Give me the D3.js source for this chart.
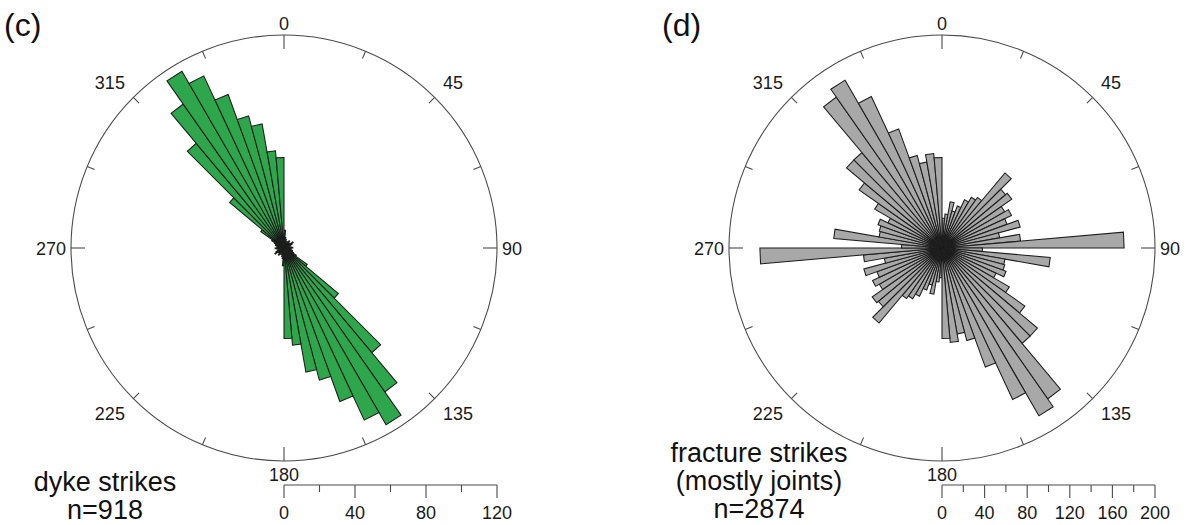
<!DOCTYPE html>
<html>
<head>
<meta charset="utf-8">
<script src="https://cdn.jsdelivr.net/npm/d3@7/dist/d3.min.js"></script>
<style>
  html, body { margin: 0; padding: 0; background: #fff; }
  svg { display: block; font-family: "Liberation Sans", Arial, sans-serif; }
</style>
</head>
<body>
<svg id="chart" width="1192" height="525"></svg>
<script>
// ---- data (strike roses, 5-degree bins, bidirectional: each bin drawn at θ and θ+180) ----
const binStarts = [0,5,10,15,20,25,30,35,40,45,50,55,60,65,70,75,80,85,
                   90,95,100,105,110,115,120,125,130,135,140,145,150,155,160,165,170,175];
const dykeCounts = [10,6,5,4,3,3,4,5,4,3,4,6,5,4,3,3,4,5,
                    4,3,4,5,5,6,8,16,40,77,99,115,107,92,77,71,55,51];
const fractureCounts = [28,32,44,36,42,50,55,58,92,78,80,68,72,65,76,55,74,171,
                        38,102,60,61,64,56,73,95,117,117,173,182,157,119,90,82,89,85];
const dykeScaleTicks = [0,20,40,60,80,100,120];
const fractureScaleTicks = [0,20,40,60,80,100,120,140,160,180,200];
const compassAngles = [0,45,90,135,180,225,270,315];
const compassLabels = ["0","45","90","135","180","225","270","315"];
const minorCompassAngles = [22.5,67.5,112.5,157.5,202.5,247.5,292.5,337.5];

const svg = d3.select("#chart");
const R = 213;
const binWidth = 5;

function rose(opts) {
  const {cx, cy, counts, maxVal, ticks, fill, panel, titleLines, titleX, titleBaselines} = opts;
  const r = d3.scaleLinear().domain([0, maxVal]).range([0, R]);
  const ang = d3.scaleLinear().domain([0, 360]).range([0, 2 * Math.PI]);
  const g = svg.append("g").attr("transform", `translate(${cx},${cy})`);

  // bars
  const petals = [];
  binStarts.forEach((s, i) => {
    [0, 180].forEach(off => petals.push({start: s + off, v: counts[i]}));
  });
  g.append("g").selectAll("path").data(petals).join("path")
    .attr("d", d => {
      const p1 = d3.pointRadial(ang(d.start), r(d.v));
      const p2 = d3.pointRadial(ang(d.start + binWidth), r(d.v));
      return `M0,0L${p1[0]},${p1[1]}L${p2[0]},${p2[1]}Z`;
    })
    .attr("fill", fill)
    .attr("stroke", "#1c1c1c")
    .attr("stroke-width", 1.05)
    .attr("stroke-linejoin", "miter");

  // circle
  g.append("circle").attr("r", R).attr("fill", "none")
    .attr("stroke", "#4a4a4a").attr("stroke-width", 1.1);

  // compass ticks
  const allTicks = compassAngles.map(a => ({a, len: (a % 90 === 0) ? 14 : 8}))
    .concat(minorCompassAngles.map(a => ({a, len: 8})));
  g.append("g").selectAll("line").data(allTicks).join("line")
    .attr("x1", d => d3.pointRadial(ang(d.a), R)[0])
    .attr("y1", d => d3.pointRadial(ang(d.a), R)[1])
    .attr("x2", d => d3.pointRadial(ang(d.a), R - d.len)[0])
    .attr("y2", d => d3.pointRadial(ang(d.a), R - d.len)[1])
    .attr("stroke", "#4a4a4a").attr("stroke-width", 1.1);

  // compass labels: nearest text corner/edge kept a few px outside the circle
  compassAngles.forEach((a, i) => {
    let x, y, anchor = "middle";
    if (a === 0) { x = 0; y = -R - 5; }
    else if (a === 180) { x = 0; y = R + 19.5; }
    else if (a === 90) { x = R + 5; y = 6.5; anchor = "start"; }
    else if (a === 270) { x = -R - 5; y = 6.5; anchor = "end"; }
    else {
      const p = d3.pointRadial(ang(a), R + 12);
      x = p[0];
      anchor = p[0] > 0 ? "start" : "end";
      y = p[1] < 0 ? p[1] : p[1] + 13;
    }
    g.append("text").attr("x", x).attr("y", y).attr("text-anchor", anchor)
      .attr("font-size", 18).attr("fill", "#1a1a1a").text(compassLabels[i]);
  });

  // scale bar
  const sx = d3.scaleLinear().domain([0, maxVal]).range([cx, cx + R]);
  const barY = 485;
  const sb = svg.append("g");
  sb.append("line").attr("x1", sx(0)).attr("x2", sx(maxVal))
    .attr("y1", barY).attr("y2", barY).attr("stroke", "#4a4a4a").attr("stroke-width", 1.1);
  sb.selectAll("line.t").data(ticks).join("line").attr("class", "t")
    .attr("x1", d => sx(d)).attr("x2", d => sx(d))
    .attr("y1", barY).attr("y2", d => barY + (d % 40 === 0 ? 13 : 7))
    .attr("stroke", "#4a4a4a").attr("stroke-width", 1.1);
  sb.selectAll("text").data(ticks.filter(d => d % 40 === 0)).join("text")
    .attr("x", d => sx(d)).attr("y", 519).attr("text-anchor", "middle")
    .attr("font-size", 18).attr("fill", "#1a1a1a").text(d => d);

  // panel label
  svg.append("text").attr("x", cx - 280).attr("y", 36).attr("font-size", 32)
    .attr("fill", "#111").text(panel);

  // title
  titleLines.forEach((t, i) => {
    svg.append("text").attr("x", titleX).attr("y", titleBaselines[i])
      .attr("text-anchor", "middle").attr("font-size", 27).attr("fill", "#111").text(t);
  });
}

rose({cx: 284, cy: 248, counts: dykeCounts, maxVal: 120, ticks: dykeScaleTicks,
      fill: "#2ea64b", panel: "(c)", titleLines: ["dyke strikes", "n=918"],
      titleX: 105, titleBaselines: [491, 519]});
rose({cx: 942, cy: 248, counts: fractureCounts, maxVal: 200, ticks: fractureScaleTicks,
      fill: "#a8a8a8", panel: "(d)", titleLines: ["fracture strikes", "(mostly joints)", "n=2874"],
      titleX: 759, titleBaselines: [462, 490, 518]});
</script>
</body>
</html>
